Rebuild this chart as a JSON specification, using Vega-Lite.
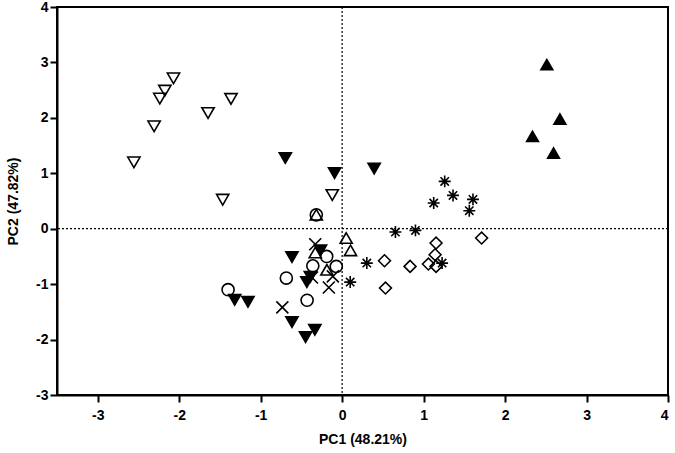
{
  "$schema": "https://vega.github.io/schema/vega-lite/v6.json",
  "width": 611,
  "height": 388,
  "autosize": {"type": "none"},
  "padding": {"left": 57, "top": 7, "right": 7, "bottom": 58},
  "background": "white",
  "config": {
    "view": {"stroke": "black", "strokeWidth": 2},
    "axis": {
      "grid": false,
      "domainColor": "black",
      "domainWidth": 2,
      "tickColor": "black",
      "tickWidth": 2,
      "tickSize": 7,
      "labelFont": "Liberation Sans",
      "labelFontSize": 14,
      "labelFontWeight": "bold",
      "labelColor": "black",
      "titleFont": "Liberation Sans",
      "titleFontSize": 14,
      "titleFontWeight": "bold",
      "titleColor": "black"
    }
  },
  "layer": [
    {
      "data": {"values": [{"zero": 0}]},
      "mark": {"type": "rule", "color": "black", "strokeWidth": 1.2, "strokeDash": [2, 2]},
      "encoding": {
        "x": {"field": "zero", "type": "quantitative", "scale": {"domain": [-3.5, 4], "nice": false, "zero": false}}
      }
    },
    {
      "data": {"values": [{"zero": 0}]},
      "mark": {"type": "rule", "color": "black", "strokeWidth": 1.2, "strokeDash": [2, 2]},
      "encoding": {
        "y": {"field": "zero", "type": "quantitative", "scale": {"domain": [-3, 4], "nice": false, "zero": false}}
      }
    },
    {
      "data": {
        "values": [
          {"g": "G1", "pc1": -2.556, "pc2": 1.197},
          {"g": "G1", "pc1": -2.308, "pc2": 1.847},
          {"g": "G1", "pc1": -2.238, "pc2": 2.347},
          {"g": "G1", "pc1": -2.176, "pc2": 2.491},
          {"g": "G1", "pc1": -2.07, "pc2": 2.713},
          {"g": "G1", "pc1": -1.646, "pc2": 2.088},
          {"g": "G1", "pc1": -1.364, "pc2": 2.341},
          {"g": "G1", "pc1": -1.466, "pc2": 0.523},
          {"g": "G1", "pc1": -0.121, "pc2": 0.608},
          {"g": "G2", "pc1": -0.697, "pc2": 1.276},
          {"g": "G2", "pc1": -0.093, "pc2": 1.005},
          {"g": "G2", "pc1": 0.393, "pc2": 1.083},
          {"g": "G2", "pc1": -0.616, "pc2": -0.511},
          {"g": "G2", "pc1": -1.319, "pc2": -1.282},
          {"g": "G2", "pc1": -1.156, "pc2": -1.318},
          {"g": "G2", "pc1": -0.616, "pc2": -1.685},
          {"g": "G2", "pc1": -0.449, "pc2": -1.955},
          {"g": "G2", "pc1": -0.335, "pc2": -1.823},
          {"g": "G2", "pc1": -0.433, "pc2": -0.962},
          {"g": "G2", "pc1": -0.39, "pc2": -0.87},
          {"g": "G2", "pc1": -0.265, "pc2": -0.39},
          {"g": "G3", "pc1": -0.317, "pc2": 0.253},
          {"g": "G3", "pc1": 0.05, "pc2": -0.168},
          {"g": "G3", "pc1": 0.103, "pc2": -0.39},
          {"g": "G3", "pc1": -0.33, "pc2": -0.43},
          {"g": "G3", "pc1": -0.187, "pc2": -0.74},
          {"g": "G4", "pc1": -0.317, "pc2": 0.25},
          {"g": "G4", "pc1": -1.4, "pc2": -1.1},
          {"g": "G4", "pc1": -0.685, "pc2": -0.89},
          {"g": "G4", "pc1": -0.36, "pc2": -0.67},
          {"g": "G4", "pc1": -0.43, "pc2": -1.29},
          {"g": "G4", "pc1": -0.072, "pc2": -0.68},
          {"g": "G4", "pc1": -0.19, "pc2": -0.5},
          {"g": "G5", "pc1": -0.734, "pc2": -1.42},
          {"g": "G5", "pc1": -0.163, "pc2": -1.06},
          {"g": "G5", "pc1": -0.33, "pc2": -0.28},
          {"g": "G5", "pc1": -0.114, "pc2": -0.86},
          {"g": "G5", "pc1": -0.37, "pc2": -0.88},
          {"g": "G6", "pc1": 1.259, "pc2": 0.854},
          {"g": "G6", "pc1": 1.361, "pc2": 0.601},
          {"g": "G6", "pc1": 1.124, "pc2": 0.464},
          {"g": "G6", "pc1": 1.606, "pc2": 0.529},
          {"g": "G6", "pc1": 1.561, "pc2": 0.325},
          {"g": "G6", "pc1": 0.654, "pc2": -0.06},
          {"g": "G6", "pc1": 0.9, "pc2": -0.03},
          {"g": "G6", "pc1": 0.303, "pc2": -0.62},
          {"g": "G6", "pc1": 0.099, "pc2": -0.963},
          {"g": "G6", "pc1": 1.227, "pc2": -0.62},
          {"g": "G7", "pc1": 1.712, "pc2": -0.168},
          {"g": "G7", "pc1": 1.153, "pc2": -0.258},
          {"g": "G7", "pc1": 1.141, "pc2": -0.469},
          {"g": "G7", "pc1": 0.52, "pc2": -0.578},
          {"g": "G7", "pc1": 0.834, "pc2": -0.68},
          {"g": "G7", "pc1": 1.059, "pc2": -0.637},
          {"g": "G7", "pc1": 1.153, "pc2": -0.68},
          {"g": "G7", "pc1": 0.532, "pc2": -1.07},
          {"g": "G8", "pc1": 2.513, "pc2": 2.96},
          {"g": "G8", "pc1": 2.673, "pc2": 1.98},
          {"g": "G8", "pc1": 2.337, "pc2": 1.666},
          {"g": "G8", "pc1": 2.595, "pc2": 1.366}
        ]
      },
      "mark": {"type": "point", "filled": false, "stroke": "black", "opacity": 1},
      "encoding": {
        "x": {
          "field": "pc1", "type": "quantitative",
          "scale": {"domain": [-3.5, 4], "nice": false, "zero": false},
          "axis": {"values": [-3, -2, -1, 0, 1, 2, 3, 4], "labelExpr": "'' + datum.value", "title": "PC1 (48.21%)", "labelPadding": 6, "titlePadding": 10}
        },
        "y": {
          "field": "pc2", "type": "quantitative",
          "scale": {"domain": [-3, 4], "nice": false, "zero": false},
          "axis": {"values": [-3, -2, -1, 0, 1, 2, 3, 4], "labelExpr": "'' + datum.value", "title": "PC2 (47.82%)", "labelPadding": 2, "titlePadding": 15}
        },
        "shape": {
          "field": "g", "type": "nominal", "legend": null,
          "scale": {
            "domain": ["G1", "G2", "G3", "G4", "G5", "G6", "G7", "G8"],
            "range": ["triangle-down", "triangle-down", "triangle-up", "circle", "M-1,-1L1,1M-1,1L1,-1", "M0,-1L0,1M-1,0L1,0M-0.7,-0.7L0.7,0.7M-0.7,0.7L0.7,-0.7", "diamond", "triangle-up"]
          }
        },
        "fill": {
          "field": "g", "type": "nominal", "legend": null,
          "scale": {
            "domain": ["G1", "G2", "G3", "G4", "G5", "G6", "G7", "G8"],
            "range": ["transparent", "black", "transparent", "transparent", "black", "black", "transparent", "black"]
          }
        },
        "size": {
          "field": "g", "type": "nominal", "legend": null,
          "scale": {
            "domain": ["G1", "G2", "G3", "G4", "G5", "G6", "G7", "G8"],
            "range": [150, 140, 150, 115, 28, 140, 270, 150]
          }
        },
        "strokeWidth": {
          "field": "g", "type": "nominal", "legend": null,
          "scale": {
            "domain": ["G1", "G2", "G3", "G4", "G5", "G6", "G7", "G8"],
            "range": [1.6, 1.6, 1.6, 1.6, 2, 2.2, 1.6, 1.6]
          }
        }
      }
    }
  ]
}
